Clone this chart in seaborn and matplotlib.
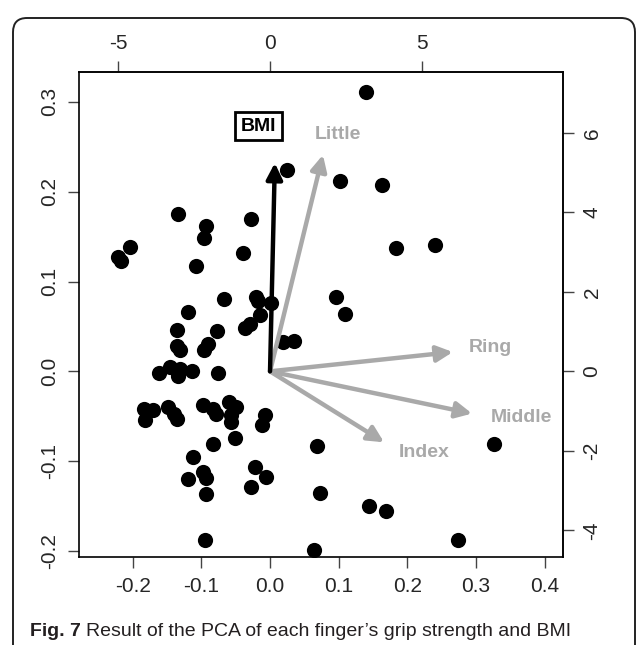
import numpy as np
import pandas as pd
import seaborn as sns
import matplotlib.pyplot as plt
from matplotlib.patches import FancyBboxPatch

sns.set_theme(style="white")
plt.rcParams['font.family'] = ['Liberation Sans', 'DejaVu Sans']
plt.rcParams['axes.unicode_minus'] = False

# PCA scores (PC1, PC2)
pc1 = [0.140, 0.025, 0.102, 0.163, -0.134, -0.028, -0.093, -0.096, 0.183, 0.240,
       -0.204, -0.221, -0.217, -0.039, -0.108, 0.096, 0.109, -0.067, -0.119, -0.077,
       -0.020, -0.017, 0.001, -0.015, -0.029, -0.036, -0.135, -0.135, -0.131, -0.090,
       -0.096, 0.019, 0.035, -0.162, -0.146, -0.131, -0.134, -0.114, -0.076, -0.183,
       -0.182, -0.170, -0.148, -0.140, -0.135, -0.098, -0.083, -0.079, -0.060, -0.049,
       -0.057, -0.057, -0.007, -0.012, -0.051, -0.083, 0.068, -0.112, 0.326, -0.098,
       -0.093, -0.119, -0.022, -0.006, -0.028, -0.093, 0.073, 0.144, 0.169, 0.274,
       0.064, -0.095]
pc2 = [0.311, 0.224, 0.212, 0.207, 0.175, 0.170, 0.162, 0.148, 0.137, 0.141,
       0.138, 0.127, 0.123, 0.132, 0.117, 0.083, 0.064, 0.080, 0.066, 0.045,
       0.083, 0.078, 0.076, 0.063, 0.053, 0.048, 0.046, 0.028, 0.024, 0.030,
       0.024, 0.033, 0.034, -0.002, 0.005, 0.003, -0.005, 0.000, -0.002, -0.042,
       -0.054, -0.043, -0.040, -0.047, -0.053, -0.038, -0.042, -0.047, -0.034, -0.040,
       -0.049, -0.056, -0.049, -0.060, -0.074, -0.081, -0.083, -0.095, -0.081, -0.112,
       -0.119, -0.120, -0.107, -0.118, -0.129, -0.136, -0.135, -0.150, -0.155, -0.188,
       -0.199, -0.188]

# loading arrows
var_names = ['Little', 'Ring', 'Middle', 'Index']
load_x = [0.077, 0.266, 0.294, 0.166]
load_y = [0.241, 0.0215, -0.047, -0.079]
label_x = [0.099, 0.320, 0.366, 0.224]
label_y = [0.264, 0.027, -0.051, -0.090]

bmi_x, bmi_y = 0.007, 0.232
bmi_lab_x, bmi_lab_y = -0.017, 0.273

scale = 22.6  # top/right axis scale

df = pd.DataFrame({'PC1': pc1, 'PC2': pc2})

fig = plt.figure(figsize=(6.37, 6.45), dpi=100)
ax = fig.add_axes([0.124, 0.136, 0.76, 0.752])

sns.scatterplot(data=df, x='PC1', y='PC2', color='black', s=120, linewidth=0, ax=ax)

grey = '#a9a9a9'
for name, lx, ly, tx, ty in zip(var_names, load_x, load_y, label_x, label_y):
    ax.annotate('', xy=(lx, ly), xytext=(0, 0),
                arrowprops=dict(arrowstyle='-|>', color=grey, lw=3.2,
                                mutation_scale=24, shrinkA=0, shrinkB=0))
    ax.text(tx, ty, name, color=grey, fontsize=14, fontweight='bold',
            ha='center', va='center')

ax.annotate('', xy=(bmi_x, bmi_y), xytext=(0, 0),
            arrowprops=dict(arrowstyle='-|>', color='black', lw=3.2,
                            mutation_scale=24, shrinkA=0, shrinkB=0))
ax.text(bmi_lab_x, bmi_lab_y, 'BMI', color='black', fontsize=14, fontweight='bold',
        ha='center', va='center',
        bbox=dict(boxstyle='square,pad=0.3', fc='white', ec='black', lw=2))

ax.set_xlim(-0.278, 0.4265)
ax.set_ylim(-0.207, 0.333)
ax.set_xticks([-0.2, -0.1, 0.0, 0.1, 0.2, 0.3, 0.4])
ax.set_xticklabels(['-0.2', '-0.1', '0.0', '0.1', '0.2', '0.3', '0.4'])
ax.set_yticks([-0.2, -0.1, 0.0, 0.1, 0.2, 0.3])
ax.set_yticklabels(['-0.2', '-0.1', '0.0', '0.1', '0.2', '0.3'], rotation=90, va='center')
ax.set_xlabel('')
ax.set_ylabel('')
ax.tick_params(axis='both', which='major', labelsize=15, length=8, width=1,
               direction='out', color='#444444', pad=6, bottom=True, left=True)
for sp in ax.spines.values():
    sp.set_color('black')
    sp.set_linewidth(1.2)

top = ax.secondary_xaxis('top', functions=(lambda v: v * scale, lambda v: v / scale))
top.set_xticks([-5, 0, 5])
top.set_xticklabels(['-5', '0', '5'])
top.tick_params(labelsize=15, length=8, width=1, direction='out', color='#444444', pad=6)

right = ax.secondary_yaxis('right', functions=(lambda v: v * scale, lambda v: v / scale))
right.set_yticks([-4, -2, 0, 2, 4, 6])
right.set_yticklabels(['-4', '-2', '0', '2', '4', '6'], rotation=90, va='center')
right.tick_params(labelsize=15, length=8, width=1, direction='out', color='#444444', pad=6)

# rounded frame
frame = FancyBboxPatch((13 / 637, -0.05), 622 / 637, 1 - 18 / 645 + 0.05,
                       boxstyle='round,pad=0,rounding_size=0.022',
                       transform=fig.transFigure, fc='none', ec='#222222', lw=1.4,
                       clip_on=False)
fig.patches.append(frame)

# caption: bold "Fig. 7" followed by the regular text
cap_y = 1 - 632 / 645
t1 = fig.text(30 / 637, cap_y, 'Fig. 7', fontsize=14, fontweight='bold',
              color='#231f20', va='center', ha='left')
fig.canvas.draw()
bb = t1.get_window_extent()
x2 = (bb.x1 + 5) / fig.bbox.width
fig.text(x2, cap_y, "Result of the PCA of each finger\u2019s grip strength and BMI",
         fontsize=14, color='#231f20', va='center', ha='left')

fig.savefig('out.png', dpi=100)
